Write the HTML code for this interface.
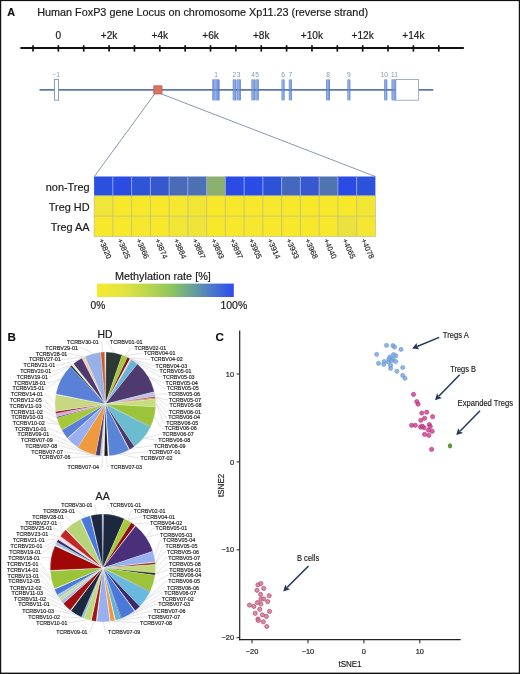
<!DOCTYPE html>
<html><head><meta charset="utf-8"><style>
html,body{margin:0;padding:0;background:#fff;}
body{width:520px;height:674px;overflow:hidden;font-family:"Liberation Sans",sans-serif;-webkit-font-smoothing:antialiased;}
svg{display:block;will-change:transform;}
</style></head><body>
<svg width="520" height="674" viewBox="0 0 520 674" font-family="Liberation Sans, sans-serif"><style>text{stroke:#1a1a1a;stroke-width:0.18px}.s{stroke-width:0.15px}.g{stroke:none}</style><rect x="0" y="0" width="520" height="1.1" fill="#111"/><rect x="0" y="0" width="1.2" height="674" fill="#111"/><rect x="518.8" y="0" width="1.2" height="674" fill="#111"/><rect x="0" y="672.6" width="520" height="1.4" fill="#111"/>
<text x="7.3" y="15.7" font-size="10.8" font-weight="bold" fill="#111">A</text>
<text x="37.2" y="15.9" font-size="10.83" fill="#1a1a1a">Human FoxP3 gene Locus on chromosome Xp11.23 (reverse strand)</text>
<line x1="20.4" y1="48.0" x2="463.8" y2="48.0" stroke="#111" stroke-width="2.0"/>
<line x1="33.00" y1="45.2" x2="33.00" y2="51.6" stroke="#111" stroke-width="1.7"/>
<line x1="58.36" y1="45.2" x2="58.36" y2="51.6" stroke="#111" stroke-width="1.7"/>
<line x1="83.72" y1="45.2" x2="83.72" y2="51.6" stroke="#111" stroke-width="1.7"/>
<line x1="109.08" y1="45.2" x2="109.08" y2="51.6" stroke="#111" stroke-width="1.7"/>
<line x1="134.44" y1="45.2" x2="134.44" y2="51.6" stroke="#111" stroke-width="1.7"/>
<line x1="159.80" y1="45.2" x2="159.80" y2="51.6" stroke="#111" stroke-width="1.7"/>
<line x1="185.16" y1="45.2" x2="185.16" y2="51.6" stroke="#111" stroke-width="1.7"/>
<line x1="210.52" y1="45.2" x2="210.52" y2="51.6" stroke="#111" stroke-width="1.7"/>
<line x1="235.88" y1="45.2" x2="235.88" y2="51.6" stroke="#111" stroke-width="1.7"/>
<line x1="261.24" y1="45.2" x2="261.24" y2="51.6" stroke="#111" stroke-width="1.7"/>
<line x1="286.60" y1="45.2" x2="286.60" y2="51.6" stroke="#111" stroke-width="1.7"/>
<line x1="311.96" y1="45.2" x2="311.96" y2="51.6" stroke="#111" stroke-width="1.7"/>
<line x1="337.32" y1="45.2" x2="337.32" y2="51.6" stroke="#111" stroke-width="1.7"/>
<line x1="362.68" y1="45.2" x2="362.68" y2="51.6" stroke="#111" stroke-width="1.7"/>
<line x1="388.04" y1="45.2" x2="388.04" y2="51.6" stroke="#111" stroke-width="1.7"/>
<line x1="413.40" y1="45.2" x2="413.40" y2="51.6" stroke="#111" stroke-width="1.7"/>
<line x1="438.76" y1="45.2" x2="438.76" y2="51.6" stroke="#111" stroke-width="1.7"/>
<text x="58.36" y="38.7" font-size="10.1" fill="#1a1a1a" text-anchor="middle">0</text>
<text x="109.08" y="38.7" font-size="10.1" fill="#1a1a1a" text-anchor="middle">+2k</text>
<text x="159.80" y="38.7" font-size="10.1" fill="#1a1a1a" text-anchor="middle">+4k</text>
<text x="210.52" y="38.7" font-size="10.1" fill="#1a1a1a" text-anchor="middle">+6k</text>
<text x="261.24" y="38.7" font-size="10.1" fill="#1a1a1a" text-anchor="middle">+8k</text>
<text x="311.96" y="38.7" font-size="10.1" fill="#1a1a1a" text-anchor="middle">+10k</text>
<text x="362.68" y="38.7" font-size="10.1" fill="#1a1a1a" text-anchor="middle">+12k</text>
<text x="413.40" y="38.7" font-size="10.1" fill="#1a1a1a" text-anchor="middle">+14k</text>
<defs><linearGradient id="ex" x1="0" x2="1" y1="0" y2="0"><stop offset="0" stop-color="#6a8ad0"/><stop offset="0.4" stop-color="#94b4ee"/><stop offset="1" stop-color="#6282c8"/></linearGradient><linearGradient id="cb" x1="0" x2="1" y1="0" y2="0"><stop offset="0" stop-color="#f4ea30"/><stop offset="0.2" stop-color="#e2e442"/><stop offset="0.4" stop-color="#b4d450"/><stop offset="0.55" stop-color="#8cc460"/><stop offset="0.7" stop-color="#68a09a"/><stop offset="0.85" stop-color="#4a74cc"/><stop offset="1" stop-color="#2c4cf0"/></linearGradient></defs>
<line x1="39.5" y1="89.9" x2="433.3" y2="89.9" stroke="#5a7aac" stroke-width="1.7"/>
<rect x="54.5" y="79.4" width="4" height="20.8" fill="#fff" stroke="#7a94c0" stroke-width="0.9"/>
<rect x="212.3" y="79.3" width="7.30" height="21.2" rx="0.8" fill="url(#ex)"/>
<rect x="232.7" y="79.3" width="3.50" height="21.2" rx="0.8" fill="url(#ex)"/>
<rect x="236.6" y="79.3" width="4.30" height="21.2" rx="0.8" fill="url(#ex)"/>
<rect x="251.4" y="79.3" width="3.50" height="21.2" rx="0.8" fill="url(#ex)"/>
<rect x="255.3" y="79.3" width="3.50" height="21.2" rx="0.8" fill="url(#ex)"/>
<rect x="281.5" y="79.3" width="3.10" height="21.2" rx="0.8" fill="url(#ex)"/>
<rect x="288.8" y="79.3" width="3.10" height="21.2" rx="0.8" fill="url(#ex)"/>
<rect x="326" y="79.3" width="4.00" height="21.2" rx="0.8" fill="url(#ex)"/>
<rect x="347.3" y="79.3" width="3.10" height="21.2" rx="0.8" fill="url(#ex)"/>
<rect x="384.1" y="79.3" width="3.20" height="21.2" rx="0.8" fill="url(#ex)"/>
<rect x="391.5" y="79.3" width="4.40" height="21.2" rx="0.8" fill="url(#ex)"/>
<line x1="212.3" y1="89.9" x2="219.6" y2="89.9" stroke="#3a5a98" stroke-width="1.6" stroke-opacity="0.45"/>
<line x1="232.7" y1="89.9" x2="236.2" y2="89.9" stroke="#3a5a98" stroke-width="1.6" stroke-opacity="0.45"/>
<line x1="236.6" y1="89.9" x2="240.9" y2="89.9" stroke="#3a5a98" stroke-width="1.6" stroke-opacity="0.45"/>
<line x1="251.4" y1="89.9" x2="254.9" y2="89.9" stroke="#3a5a98" stroke-width="1.6" stroke-opacity="0.45"/>
<line x1="255.3" y1="89.9" x2="258.8" y2="89.9" stroke="#3a5a98" stroke-width="1.6" stroke-opacity="0.45"/>
<line x1="281.5" y1="89.9" x2="284.6" y2="89.9" stroke="#3a5a98" stroke-width="1.6" stroke-opacity="0.45"/>
<line x1="288.8" y1="89.9" x2="291.9" y2="89.9" stroke="#3a5a98" stroke-width="1.6" stroke-opacity="0.45"/>
<line x1="326" y1="89.9" x2="330" y2="89.9" stroke="#3a5a98" stroke-width="1.6" stroke-opacity="0.45"/>
<line x1="347.3" y1="89.9" x2="350.4" y2="89.9" stroke="#3a5a98" stroke-width="1.6" stroke-opacity="0.45"/>
<line x1="384.1" y1="89.9" x2="387.3" y2="89.9" stroke="#3a5a98" stroke-width="1.6" stroke-opacity="0.45"/>
<line x1="391.5" y1="89.9" x2="395.9" y2="89.9" stroke="#3a5a98" stroke-width="1.6" stroke-opacity="0.45"/>
<rect x="395.9" y="79.4" width="22.6" height="20.8" fill="#fff" stroke="#8c9cc0" stroke-width="0.8"/>
<text x="56.2" y="77.2" font-size="6.6" fill="#8796b4" class="g" text-anchor="middle">−1</text>
<text x="216" y="77.2" font-size="6.6" fill="#8796b4" class="g" text-anchor="middle">1</text>
<text x="234.4" y="77.2" font-size="6.6" fill="#8796b4" class="g" text-anchor="middle">2</text>
<text x="238.7" y="77.2" font-size="6.6" fill="#8796b4" class="g" text-anchor="middle">3</text>
<text x="253" y="77.2" font-size="6.6" fill="#8796b4" class="g" text-anchor="middle">4</text>
<text x="257" y="77.2" font-size="6.6" fill="#8796b4" class="g" text-anchor="middle">5</text>
<text x="283" y="77.2" font-size="6.6" fill="#8796b4" class="g" text-anchor="middle">6</text>
<text x="290.3" y="77.2" font-size="6.6" fill="#8796b4" class="g" text-anchor="middle">7</text>
<text x="328" y="77.2" font-size="6.6" fill="#8796b4" class="g" text-anchor="middle">8</text>
<text x="348.8" y="77.2" font-size="6.6" fill="#8796b4" class="g" text-anchor="middle">9</text>
<text x="384.2" y="77.2" font-size="6.6" fill="#8796b4" class="g" text-anchor="middle">10</text>
<text x="394.5" y="77.2" font-size="6.6" fill="#8796b4" class="g" text-anchor="middle">11</text>
<rect x="153.8" y="85.8" width="8.2" height="8.2" fill="#da7462" stroke="#b85446" stroke-width="0.7"/>
<line x1="154.6" y1="94" x2="94.3" y2="176.5" stroke="#7a8aa6" stroke-width="0.9"/>
<line x1="161.6" y1="94" x2="375.3" y2="176.5" stroke="#7a8aa6" stroke-width="0.9"/>
<rect x="94.10" y="176.5" width="18.75" height="19.30" fill="#2a50e0"/>
<rect x="112.85" y="176.5" width="18.75" height="19.30" fill="#2a4ce4"/>
<rect x="131.61" y="176.5" width="18.75" height="19.30" fill="#2e54d8"/>
<rect x="150.36" y="176.5" width="18.75" height="19.30" fill="#3658cc"/>
<rect x="169.11" y="176.5" width="18.75" height="19.30" fill="#4a6cb8"/>
<rect x="187.87" y="176.5" width="18.75" height="19.30" fill="#4c70b4"/>
<rect x="206.62" y="176.5" width="18.75" height="19.30" fill="#8cb070"/>
<rect x="225.37" y="176.5" width="18.75" height="19.30" fill="#2a4ce4"/>
<rect x="244.13" y="176.5" width="18.75" height="19.30" fill="#2a4ce6"/>
<rect x="262.88" y="176.5" width="18.75" height="19.30" fill="#2c52d8"/>
<rect x="281.63" y="176.5" width="18.75" height="19.30" fill="#4668bc"/>
<rect x="300.39" y="176.5" width="18.75" height="19.30" fill="#3858d0"/>
<rect x="319.14" y="176.5" width="18.75" height="19.30" fill="#4e74b2"/>
<rect x="337.89" y="176.5" width="18.75" height="19.30" fill="#2a4ce4"/>
<rect x="356.65" y="176.5" width="18.75" height="19.30" fill="#2c52dc"/>
<rect x="94.10" y="195.8" width="18.75" height="20.40" fill="#eee63a"/>
<rect x="112.85" y="195.8" width="18.75" height="20.40" fill="#f7e82c"/>
<rect x="131.61" y="195.8" width="18.75" height="20.40" fill="#f7e82c"/>
<rect x="150.36" y="195.8" width="18.75" height="20.40" fill="#f8e82a"/>
<rect x="169.11" y="195.8" width="18.75" height="20.40" fill="#f6e82e"/>
<rect x="187.87" y="195.8" width="18.75" height="20.40" fill="#f2e634"/>
<rect x="206.62" y="195.8" width="18.75" height="20.40" fill="#f8e82a"/>
<rect x="225.37" y="195.8" width="18.75" height="20.40" fill="#f7e82c"/>
<rect x="244.13" y="195.8" width="18.75" height="20.40" fill="#f7e82c"/>
<rect x="262.88" y="195.8" width="18.75" height="20.40" fill="#f6e82e"/>
<rect x="281.63" y="195.8" width="18.75" height="20.40" fill="#f7e82c"/>
<rect x="300.39" y="195.8" width="18.75" height="20.40" fill="#f8e82a"/>
<rect x="319.14" y="195.8" width="18.75" height="20.40" fill="#f7e82c"/>
<rect x="337.89" y="195.8" width="18.75" height="20.40" fill="#f8e82a"/>
<rect x="356.65" y="195.8" width="18.75" height="20.40" fill="#f2e634"/>
<rect x="94.10" y="216.2" width="18.75" height="20.30" fill="#f7e82c"/>
<rect x="112.85" y="216.2" width="18.75" height="20.30" fill="#f7e82c"/>
<rect x="131.61" y="216.2" width="18.75" height="20.30" fill="#f6e82e"/>
<rect x="150.36" y="216.2" width="18.75" height="20.30" fill="#f7e82c"/>
<rect x="169.11" y="216.2" width="18.75" height="20.30" fill="#f2e634"/>
<rect x="187.87" y="216.2" width="18.75" height="20.30" fill="#eee43a"/>
<rect x="206.62" y="216.2" width="18.75" height="20.30" fill="#f8e82a"/>
<rect x="225.37" y="216.2" width="18.75" height="20.30" fill="#f7e82c"/>
<rect x="244.13" y="216.2" width="18.75" height="20.30" fill="#f6e82e"/>
<rect x="262.88" y="216.2" width="18.75" height="20.30" fill="#f7e82c"/>
<rect x="281.63" y="216.2" width="18.75" height="20.30" fill="#f7e82c"/>
<rect x="300.39" y="216.2" width="18.75" height="20.30" fill="#f8e82a"/>
<rect x="319.14" y="216.2" width="18.75" height="20.30" fill="#f7e82c"/>
<rect x="337.89" y="216.2" width="18.75" height="20.30" fill="#ebe240"/>
<rect x="356.65" y="216.2" width="18.75" height="20.30" fill="#f4e632"/>
<line x1="112.85" y1="176.5" x2="112.85" y2="195.8" stroke="#8ea6e0" stroke-width="0.9"/>
<line x1="112.85" y1="195.8" x2="112.85" y2="236.5" stroke="#c8c070" stroke-width="0.9"/>
<line x1="131.61" y1="176.5" x2="131.61" y2="195.8" stroke="#8ea6e0" stroke-width="0.9"/>
<line x1="131.61" y1="195.8" x2="131.61" y2="236.5" stroke="#c8c070" stroke-width="0.9"/>
<line x1="150.36" y1="176.5" x2="150.36" y2="195.8" stroke="#8ea6e0" stroke-width="0.9"/>
<line x1="150.36" y1="195.8" x2="150.36" y2="236.5" stroke="#c8c070" stroke-width="0.9"/>
<line x1="169.11" y1="176.5" x2="169.11" y2="195.8" stroke="#8ea6e0" stroke-width="0.9"/>
<line x1="169.11" y1="195.8" x2="169.11" y2="236.5" stroke="#c8c070" stroke-width="0.9"/>
<line x1="187.87" y1="176.5" x2="187.87" y2="195.8" stroke="#8ea6e0" stroke-width="0.9"/>
<line x1="187.87" y1="195.8" x2="187.87" y2="236.5" stroke="#c8c070" stroke-width="0.9"/>
<line x1="206.62" y1="176.5" x2="206.62" y2="195.8" stroke="#8ea6e0" stroke-width="0.9"/>
<line x1="206.62" y1="195.8" x2="206.62" y2="236.5" stroke="#c8c070" stroke-width="0.9"/>
<line x1="225.37" y1="176.5" x2="225.37" y2="195.8" stroke="#8ea6e0" stroke-width="0.9"/>
<line x1="225.37" y1="195.8" x2="225.37" y2="236.5" stroke="#c8c070" stroke-width="0.9"/>
<line x1="244.13" y1="176.5" x2="244.13" y2="195.8" stroke="#8ea6e0" stroke-width="0.9"/>
<line x1="244.13" y1="195.8" x2="244.13" y2="236.5" stroke="#c8c070" stroke-width="0.9"/>
<line x1="262.88" y1="176.5" x2="262.88" y2="195.8" stroke="#8ea6e0" stroke-width="0.9"/>
<line x1="262.88" y1="195.8" x2="262.88" y2="236.5" stroke="#c8c070" stroke-width="0.9"/>
<line x1="281.63" y1="176.5" x2="281.63" y2="195.8" stroke="#8ea6e0" stroke-width="0.9"/>
<line x1="281.63" y1="195.8" x2="281.63" y2="236.5" stroke="#c8c070" stroke-width="0.9"/>
<line x1="300.39" y1="176.5" x2="300.39" y2="195.8" stroke="#8ea6e0" stroke-width="0.9"/>
<line x1="300.39" y1="195.8" x2="300.39" y2="236.5" stroke="#c8c070" stroke-width="0.9"/>
<line x1="319.14" y1="176.5" x2="319.14" y2="195.8" stroke="#8ea6e0" stroke-width="0.9"/>
<line x1="319.14" y1="195.8" x2="319.14" y2="236.5" stroke="#c8c070" stroke-width="0.9"/>
<line x1="337.89" y1="176.5" x2="337.89" y2="195.8" stroke="#8ea6e0" stroke-width="0.9"/>
<line x1="337.89" y1="195.8" x2="337.89" y2="236.5" stroke="#c8c070" stroke-width="0.9"/>
<line x1="356.65" y1="176.5" x2="356.65" y2="195.8" stroke="#8ea6e0" stroke-width="0.9"/>
<line x1="356.65" y1="195.8" x2="356.65" y2="236.5" stroke="#c8c070" stroke-width="0.9"/>
<line x1="94.1" y1="216.2" x2="375.4" y2="216.2" stroke="#c8c070" stroke-width="0.8"/>
<rect x="94.1" y="195.8" width="281.30" height="40.7" fill="none" stroke="#b8b490" stroke-width="0.6"/>
<text x="89.6" y="191" font-size="10.9" fill="#1a1a1a" text-anchor="end">non-Treg</text>
<text x="89.6" y="210.6" font-size="10.9" fill="#1a1a1a" text-anchor="end">Treg HD</text>
<text x="89.6" y="230.5" font-size="10.9" fill="#1a1a1a" text-anchor="end">Treg AA</text>
<text x="98.40" y="239.9" font-size="7.6" fill="#222" class="s" transform="rotate(66 98.40 239.9)">+3820</text>
<text x="117.15" y="239.9" font-size="7.6" fill="#222" class="s" transform="rotate(66 117.15 239.9)">+3825</text>
<text x="135.91" y="239.9" font-size="7.6" fill="#222" class="s" transform="rotate(66 135.91 239.9)">+3866</text>
<text x="154.66" y="239.9" font-size="7.6" fill="#222" class="s" transform="rotate(66 154.66 239.9)">+3874</text>
<text x="173.41" y="239.9" font-size="7.6" fill="#222" class="s" transform="rotate(66 173.41 239.9)">+3884</text>
<text x="192.17" y="239.9" font-size="7.6" fill="#222" class="s" transform="rotate(66 192.17 239.9)">+3887</text>
<text x="210.92" y="239.9" font-size="7.6" fill="#222" class="s" transform="rotate(66 210.92 239.9)">+3893</text>
<text x="229.67" y="239.9" font-size="7.6" fill="#222" class="s" transform="rotate(66 229.67 239.9)">+3897</text>
<text x="248.43" y="239.9" font-size="7.6" fill="#222" class="s" transform="rotate(66 248.43 239.9)">+3905</text>
<text x="267.18" y="239.9" font-size="7.6" fill="#222" class="s" transform="rotate(66 267.18 239.9)">+3914</text>
<text x="285.93" y="239.9" font-size="7.6" fill="#222" class="s" transform="rotate(66 285.93 239.9)">+3933</text>
<text x="304.69" y="239.9" font-size="7.6" fill="#222" class="s" transform="rotate(66 304.69 239.9)">+3968</text>
<text x="323.44" y="239.9" font-size="7.6" fill="#222" class="s" transform="rotate(66 323.44 239.9)">+4040</text>
<text x="342.19" y="239.9" font-size="7.6" fill="#222" class="s" transform="rotate(66 342.19 239.9)">+4065</text>
<text x="360.95" y="239.9" font-size="7.6" fill="#222" class="s" transform="rotate(66 360.95 239.9)">+4078</text>
<text x="115" y="280.4" font-size="10.85" fill="#1a1a1a">Methylation rate [%]</text>
<rect x="97" y="283.6" width="136.8" height="13.4" fill="url(#cb)"/>
<text x="90.6" y="308.8" font-size="10.2" fill="#1a1a1a">0%</text>
<text x="220.4" y="308.8" font-size="10.5" fill="#1a1a1a">100%</text>
<text x="7.4" y="340.8" font-size="11.6" font-weight="bold" fill="#111">B</text>
<path d="M105.35,404.00 L104.65,352.01 A50.4,52 0 0 1 106.05,352.01 Z" fill="#f4f6f8" stroke="#f4f4f4" stroke-width="0.3" stroke-opacity="0.7"/>
<path d="M105.35,404.00 L106.05,352.01 A50.4,52 0 0 1 122.17,354.98 Z" fill="#2d3a33" stroke="#f4f4f4" stroke-width="0.3" stroke-opacity="0.7"/>
<path d="M105.35,404.00 L122.17,354.98 A50.4,52 0 0 1 127.44,357.26 Z" fill="#a8c83c" stroke="#f4f4f4" stroke-width="0.3" stroke-opacity="0.7"/>
<path d="M105.35,404.00 L127.44,357.26 A50.4,52 0 0 1 130.17,358.74 Z" fill="#7a1a10" stroke="#f4f4f4" stroke-width="0.3" stroke-opacity="0.7"/>
<path d="M105.35,404.00 L130.17,358.74 A50.4,52 0 0 1 131.46,359.52 Z" fill="#f0d0e0" stroke="#f4f4f4" stroke-width="0.3" stroke-opacity="0.7"/>
<path d="M105.35,404.00 L131.46,359.52 A50.4,52 0 0 1 137.41,363.88 Z" fill="#6ab4d8" stroke="#f4f4f4" stroke-width="0.3" stroke-opacity="0.7"/>
<path d="M105.35,404.00 L137.41,363.88 A50.4,52 0 0 1 154.36,391.86 Z" fill="#4e3a6e" stroke="#f4f4f4" stroke-width="0.3" stroke-opacity="0.7"/>
<path d="M105.35,404.00 L154.36,391.86 A50.4,52 0 0 1 155.23,396.58 Z" fill="#c0c0e8" stroke="#f4f4f4" stroke-width="0.3" stroke-opacity="0.7"/>
<path d="M105.35,404.00 L155.23,396.58 A50.4,52 0 0 1 155.37,397.66 Z" fill="#8a3020" stroke="#f4f4f4" stroke-width="0.3" stroke-opacity="0.7"/>
<path d="M105.35,404.00 L155.37,397.66 A50.4,52 0 0 1 155.53,399.11 Z" fill="#e08030" stroke="#f4f4f4" stroke-width="0.3" stroke-opacity="0.7"/>
<path d="M105.35,404.00 L155.53,399.11 A50.4,52 0 0 1 155.67,406.99 Z" fill="#c8dc80" stroke="#f4f4f4" stroke-width="0.3" stroke-opacity="0.7"/>
<path d="M105.35,404.00 L155.67,406.99 A50.4,52 0 0 1 150.76,426.55 Z" fill="#9cc43a" stroke="#f4f4f4" stroke-width="0.3" stroke-opacity="0.7"/>
<path d="M105.35,404.00 L150.76,426.55 A50.4,52 0 0 1 150.45,427.20 Z" fill="#4a5a2a" stroke="#f4f4f4" stroke-width="0.3" stroke-opacity="0.7"/>
<path d="M105.35,404.00 L150.45,427.20 A50.4,52 0 0 1 134.33,446.54 Z" fill="#6cbcd0" stroke="#f4f4f4" stroke-width="0.3" stroke-opacity="0.7"/>
<path d="M105.35,404.00 L134.33,446.54 A50.4,52 0 0 1 129.48,449.66 Z" fill="#4a3a6a" stroke="#f4f4f4" stroke-width="0.3" stroke-opacity="0.7"/>
<path d="M105.35,404.00 L129.48,449.66 A50.4,52 0 0 1 129.01,449.91 Z" fill="#f4f6f8" stroke="#f4f4f4" stroke-width="0.3" stroke-opacity="0.7"/>
<path d="M105.35,404.00 L129.01,449.91 A50.4,52 0 0 1 109.04,455.86 Z" fill="#5a84d8" stroke="#f4f4f4" stroke-width="0.3" stroke-opacity="0.7"/>
<path d="M105.35,404.00 L109.04,455.86 A50.4,52 0 0 1 107.90,455.93 Z" fill="#f4f6f8" stroke="#f4f4f4" stroke-width="0.3" stroke-opacity="0.7"/>
<path d="M105.35,404.00 L107.90,455.93 A50.4,52 0 0 1 104.12,455.98 Z" fill="#1f1f1f" stroke="#f4f4f4" stroke-width="0.3" stroke-opacity="0.7"/>
<path d="M105.35,404.00 L104.12,455.98 A50.4,52 0 0 1 101.83,455.87 Z" fill="#eeeedd" stroke="#f4f4f4" stroke-width="0.3" stroke-opacity="0.7"/>
<path d="M105.35,404.00 L101.83,455.87 A50.4,52 0 0 1 100.08,455.72 Z" fill="#b0b8d8" stroke="#f4f4f4" stroke-width="0.3" stroke-opacity="0.7"/>
<path d="M105.35,404.00 L100.08,455.72 A50.4,52 0 0 1 95.47,454.99 Z" fill="#4a3a6a" stroke="#f4f4f4" stroke-width="0.3" stroke-opacity="0.7"/>
<path d="M105.35,404.00 L95.47,454.99 A50.4,52 0 0 1 77.75,447.51 Z" fill="#f09a40" stroke="#f4f4f4" stroke-width="0.3" stroke-opacity="0.7"/>
<path d="M105.35,404.00 L77.75,447.51 A50.4,52 0 0 1 67.66,438.52 Z" fill="#98b0f0" stroke="#f4f4f4" stroke-width="0.3" stroke-opacity="0.7"/>
<path d="M105.35,404.00 L67.66,438.52 A50.4,52 0 0 1 67.37,438.18 Z" fill="#f4f6f8" stroke="#f4f4f4" stroke-width="0.3" stroke-opacity="0.7"/>
<path d="M105.35,404.00 L67.37,438.18 A50.4,52 0 0 1 61.75,430.08 Z" fill="#5a80d8" stroke="#f4f4f4" stroke-width="0.3" stroke-opacity="0.7"/>
<path d="M105.35,404.00 L61.75,430.08 A50.4,52 0 0 1 56.78,417.90 Z" fill="#a8c83c" stroke="#f4f4f4" stroke-width="0.3" stroke-opacity="0.7"/>
<path d="M105.35,404.00 L56.78,417.90 A50.4,52 0 0 1 56.49,416.76 Z" fill="#4a3a5a" stroke="#f4f4f4" stroke-width="0.3" stroke-opacity="0.7"/>
<path d="M105.35,404.00 L56.49,416.76 A50.4,52 0 0 1 55.79,413.48 Z" fill="#d8a8d8" stroke="#f4f4f4" stroke-width="0.3" stroke-opacity="0.7"/>
<path d="M105.35,404.00 L55.79,413.48 A50.4,52 0 0 1 55.47,411.42 Z" fill="#8a1a2a" stroke="#f4f4f4" stroke-width="0.3" stroke-opacity="0.7"/>
<path d="M105.35,404.00 L55.47,411.42 A50.4,52 0 0 1 55.79,394.52 Z" fill="#c8d880" stroke="#f4f4f4" stroke-width="0.3" stroke-opacity="0.7"/>
<path d="M105.35,404.00 L55.79,394.52 A50.4,52 0 0 1 55.91,393.90 Z" fill="#e0f0f8" stroke="#f4f4f4" stroke-width="0.3" stroke-opacity="0.7"/>
<path d="M105.35,404.00 L55.91,393.90 A50.4,52 0 0 1 70.40,366.53 Z" fill="#5a80d8" stroke="#f4f4f4" stroke-width="0.3" stroke-opacity="0.7"/>
<path d="M105.35,404.00 L70.40,366.53 A50.4,52 0 0 1 71.82,365.17 Z" fill="#1a3020" stroke="#f4f4f4" stroke-width="0.3" stroke-opacity="0.7"/>
<path d="M105.35,404.00 L71.82,365.17 A50.4,52 0 0 1 73.43,363.76 Z" fill="#f4f0d0" stroke="#f4f4f4" stroke-width="0.3" stroke-opacity="0.7"/>
<path d="M105.35,404.00 L73.43,363.76 A50.4,52 0 0 1 82.00,357.92 Z" fill="#4e3a6e" stroke="#f4f4f4" stroke-width="0.3" stroke-opacity="0.7"/>
<path d="M105.35,404.00 L82.00,357.92 A50.4,52 0 0 1 85.01,356.42 Z" fill="#f0d0b0" stroke="#f4f4f4" stroke-width="0.3" stroke-opacity="0.7"/>
<path d="M105.35,404.00 L85.01,356.42 A50.4,52 0 0 1 100.78,352.21 Z" fill="#98b0e8" stroke="#f4f4f4" stroke-width="0.3" stroke-opacity="0.7"/>
<path d="M105.35,404.00 L100.78,352.21 A50.4,52 0 0 1 104.65,352.01 Z" fill="#d05a2a" stroke="#f4f4f4" stroke-width="0.3" stroke-opacity="0.7"/>
<path d="M102.85,568.00 L101.93,514.11 A52.65,53.9 0 0 1 103.59,514.11 Z" fill="#a8b0d0" stroke="#f4f4f4" stroke-width="0.3" stroke-opacity="0.7"/>
<path d="M102.85,568.00 L103.59,514.11 A52.65,53.9 0 0 1 124.35,518.80 Z" fill="#1c2840" stroke="#f4f4f4" stroke-width="0.3" stroke-opacity="0.7"/>
<path d="M102.85,568.00 L124.35,518.80 A52.65,53.9 0 0 1 131.22,522.59 Z" fill="#a8c83c" stroke="#f4f4f4" stroke-width="0.3" stroke-opacity="0.7"/>
<path d="M102.85,568.00 L131.22,522.59 A52.65,53.9 0 0 1 135.19,525.47 Z" fill="#8a1010" stroke="#f4f4f4" stroke-width="0.3" stroke-opacity="0.7"/>
<path d="M102.85,568.00 L135.19,525.47 A52.65,53.9 0 0 1 135.70,525.88 Z" fill="#f0b0c0" stroke="#f4f4f4" stroke-width="0.3" stroke-opacity="0.7"/>
<path d="M102.85,568.00 L135.70,525.88 A52.65,53.9 0 0 1 152.89,551.25 Z" fill="#4a307a" stroke="#f4f4f4" stroke-width="0.3" stroke-opacity="0.7"/>
<path d="M102.85,568.00 L152.89,551.25 A52.65,53.9 0 0 1 155.17,561.99 Z" fill="#98b0f0" stroke="#f4f4f4" stroke-width="0.3" stroke-opacity="0.7"/>
<path d="M102.85,568.00 L155.17,561.99 A52.65,53.9 0 0 1 155.23,562.55 Z" fill="#f0c0c0" stroke="#f4f4f4" stroke-width="0.3" stroke-opacity="0.7"/>
<path d="M102.85,568.00 L155.23,562.55 A52.65,53.9 0 0 1 155.39,564.52 Z" fill="#8a2020" stroke="#f4f4f4" stroke-width="0.3" stroke-opacity="0.7"/>
<path d="M102.85,568.00 L155.39,564.52 A52.65,53.9 0 0 1 155.27,573.07 Z" fill="#c0d878" stroke="#f4f4f4" stroke-width="0.3" stroke-opacity="0.7"/>
<path d="M102.85,568.00 L155.27,573.07 A52.65,53.9 0 0 1 155.01,575.32 Z" fill="#2a3020" stroke="#f4f4f4" stroke-width="0.3" stroke-opacity="0.7"/>
<path d="M102.85,568.00 L155.01,575.32 A52.65,53.9 0 0 1 150.29,591.37 Z" fill="#9cc43a" stroke="#f4f4f4" stroke-width="0.3" stroke-opacity="0.7"/>
<path d="M102.85,568.00 L150.29,591.37 A52.65,53.9 0 0 1 150.01,591.97 Z" fill="#4a4020" stroke="#f4f4f4" stroke-width="0.3" stroke-opacity="0.7"/>
<path d="M102.85,568.00 L150.01,591.97 A52.65,53.9 0 0 1 139.82,606.38 Z" fill="#68b8e0" stroke="#f4f4f4" stroke-width="0.3" stroke-opacity="0.7"/>
<path d="M102.85,568.00 L139.82,606.38 A52.65,53.9 0 0 1 134.97,610.70 Z" fill="#3a2a6a" stroke="#f4f4f4" stroke-width="0.3" stroke-opacity="0.7"/>
<path d="M102.85,568.00 L134.97,610.70 A52.65,53.9 0 0 1 134.54,611.05 Z" fill="#f4f6f8" stroke="#f4f4f4" stroke-width="0.3" stroke-opacity="0.7"/>
<path d="M102.85,568.00 L134.54,611.05 A52.65,53.9 0 0 1 121.46,618.42 Z" fill="#4a78d8" stroke="#f4f4f4" stroke-width="0.3" stroke-opacity="0.7"/>
<path d="M102.85,568.00 L121.46,618.42 A52.65,53.9 0 0 1 120.68,618.71 Z" fill="#1c2840" stroke="#f4f4f4" stroke-width="0.3" stroke-opacity="0.7"/>
<path d="M102.85,568.00 L120.68,618.71 A52.65,53.9 0 0 1 115.50,620.32 Z" fill="#60b0d8" stroke="#f4f4f4" stroke-width="0.3" stroke-opacity="0.7"/>
<path d="M102.85,568.00 L115.50,620.32 A52.65,53.9 0 0 1 114.96,620.45 Z" fill="#f4f6f8" stroke="#f4f4f4" stroke-width="0.3" stroke-opacity="0.7"/>
<path d="M102.85,568.00 L114.96,620.45 A52.65,53.9 0 0 1 110.27,621.36 Z" fill="#f09a40" stroke="#f4f4f4" stroke-width="0.3" stroke-opacity="0.7"/>
<path d="M102.85,568.00 L110.27,621.36 A52.65,53.9 0 0 1 109.81,621.43 Z" fill="#f4f6f8" stroke="#f4f4f4" stroke-width="0.3" stroke-opacity="0.7"/>
<path d="M102.85,568.00 L109.81,621.43 A52.65,53.9 0 0 1 96.89,621.55 Z" fill="#98b0f0" stroke="#f4f4f4" stroke-width="0.3" stroke-opacity="0.7"/>
<path d="M102.85,568.00 L96.89,621.55 A52.65,53.9 0 0 1 96.16,621.46 Z" fill="#f4f6f8" stroke="#f4f4f4" stroke-width="0.3" stroke-opacity="0.7"/>
<path d="M102.85,568.00 L96.16,621.46 A52.65,53.9 0 0 1 91.19,620.56 Z" fill="#a01818" stroke="#f4f4f4" stroke-width="0.3" stroke-opacity="0.7"/>
<path d="M102.85,568.00 L91.19,620.56 A52.65,53.9 0 0 1 90.74,620.45 Z" fill="#f4f6f8" stroke="#f4f4f4" stroke-width="0.3" stroke-opacity="0.7"/>
<path d="M102.85,568.00 L90.74,620.45 A52.65,53.9 0 0 1 83.72,618.22 Z" fill="#c0d878" stroke="#f4f4f4" stroke-width="0.3" stroke-opacity="0.7"/>
<path d="M102.85,568.00 L83.72,618.22 A52.65,53.9 0 0 1 81.35,617.20 Z" fill="#90c0e0" stroke="#f4f4f4" stroke-width="0.3" stroke-opacity="0.7"/>
<path d="M102.85,568.00 L81.35,617.20 A52.65,53.9 0 0 1 70.80,610.76 Z" fill="#1c2840" stroke="#f4f4f4" stroke-width="0.3" stroke-opacity="0.7"/>
<path d="M102.85,568.00 L70.80,610.76 A52.65,53.9 0 0 1 70.22,610.30 Z" fill="#f4f0d0" stroke="#f4f4f4" stroke-width="0.3" stroke-opacity="0.7"/>
<path d="M102.85,568.00 L70.22,610.30 A52.65,53.9 0 0 1 63.30,603.57 Z" fill="#a01010" stroke="#f4f4f4" stroke-width="0.3" stroke-opacity="0.7"/>
<path d="M102.85,568.00 L63.30,603.57 A52.65,53.9 0 0 1 61.02,600.74 Z" fill="#b0b8f0" stroke="#f4f4f4" stroke-width="0.3" stroke-opacity="0.7"/>
<path d="M102.85,568.00 L61.02,600.74 A52.65,53.9 0 0 1 59.15,598.06 Z" fill="#c8dc90" stroke="#f4f4f4" stroke-width="0.3" stroke-opacity="0.7"/>
<path d="M102.85,568.00 L59.15,598.06 A52.65,53.9 0 0 1 57.25,594.95 Z" fill="#a8c8e0" stroke="#f4f4f4" stroke-width="0.3" stroke-opacity="0.7"/>
<path d="M102.85,568.00 L57.25,594.95 A52.65,53.9 0 0 1 54.46,589.23 Z" fill="#4a78d8" stroke="#f4f4f4" stroke-width="0.3" stroke-opacity="0.7"/>
<path d="M102.85,568.00 L54.46,589.23 A52.65,53.9 0 0 1 54.24,588.71 Z" fill="#f4f6f8" stroke="#f4f4f4" stroke-width="0.3" stroke-opacity="0.7"/>
<path d="M102.85,568.00 L54.24,588.71 A52.65,53.9 0 0 1 50.28,571.01 Z" fill="#9cc43a" stroke="#f4f4f4" stroke-width="0.3" stroke-opacity="0.7"/>
<path d="M102.85,568.00 L50.28,571.01 A52.65,53.9 0 0 1 50.25,570.35 Z" fill="#e8c8a0" stroke="#f4f4f4" stroke-width="0.3" stroke-opacity="0.7"/>
<path d="M102.85,568.00 L50.25,570.35 A52.65,53.9 0 0 1 54.90,545.73 Z" fill="#a00808" stroke="#f4f4f4" stroke-width="0.3" stroke-opacity="0.7"/>
<path d="M102.85,568.00 L54.90,545.73 A52.65,53.9 0 0 1 55.37,544.71 Z" fill="#f4f6f8" stroke="#f4f4f4" stroke-width="0.3" stroke-opacity="0.7"/>
<path d="M102.85,568.00 L55.37,544.71 A52.65,53.9 0 0 1 56.71,542.03 Z" fill="#a0c0d8" stroke="#f4f4f4" stroke-width="0.3" stroke-opacity="0.7"/>
<path d="M102.85,568.00 L56.71,542.03 A52.65,53.9 0 0 1 58.10,539.60 Z" fill="#2a2a6a" stroke="#f4f4f4" stroke-width="0.3" stroke-opacity="0.7"/>
<path d="M102.85,568.00 L58.10,539.60 A52.65,53.9 0 0 1 58.95,538.25 Z" fill="#f0c8d8" stroke="#f4f4f4" stroke-width="0.3" stroke-opacity="0.7"/>
<path d="M102.85,568.00 L58.95,538.25 A52.65,53.9 0 0 1 60.36,536.17 Z" fill="#f4dce6" stroke="#f4f4f4" stroke-width="0.3" stroke-opacity="0.7"/>
<path d="M102.85,568.00 L60.36,536.17 A52.65,53.9 0 0 1 65.88,529.62 Z" fill="#c02828" stroke="#f4f4f4" stroke-width="0.3" stroke-opacity="0.7"/>
<path d="M102.85,568.00 L65.88,529.62 A52.65,53.9 0 0 1 66.28,529.23 Z" fill="#f4f6f8" stroke="#f4f4f4" stroke-width="0.3" stroke-opacity="0.7"/>
<path d="M102.85,568.00 L66.28,529.23 A52.65,53.9 0 0 1 80.35,519.27 Z" fill="#b8d478" stroke="#f4f4f4" stroke-width="0.3" stroke-opacity="0.7"/>
<path d="M102.85,568.00 L80.35,519.27 A52.65,53.9 0 0 1 81.02,518.95 Z" fill="#e0ecf0" stroke="#f4f4f4" stroke-width="0.3" stroke-opacity="0.7"/>
<path d="M102.85,568.00 L81.02,518.95 A52.65,53.9 0 0 1 90.20,515.68 Z" fill="#4a78d8" stroke="#f4f4f4" stroke-width="0.3" stroke-opacity="0.7"/>
<path d="M102.85,568.00 L90.20,515.68 A52.65,53.9 0 0 1 90.83,515.52 Z" fill="#d0d4e0" stroke="#f4f4f4" stroke-width="0.3" stroke-opacity="0.7"/>
<path d="M102.85,568.00 L90.83,515.52 A52.65,53.9 0 0 1 101.93,514.11 Z" fill="#1c2840" stroke="#f4f4f4" stroke-width="0.3" stroke-opacity="0.7"/>
<text x="97.5" y="338.4" font-size="10.4" fill="#1a1a1a">HD</text>
<text x="95.6" y="499.7" font-size="10.6" fill="#1a1a1a">AA</text>
<polyline points="109.0,342.0 107.0,342.0 114.3,352.5" fill="none" stroke="#c6c8cc" stroke-width="0.5"/>
<polyline points="133.6,348.0 131.6,348.0 125.0,355.8" fill="none" stroke="#c6c8cc" stroke-width="0.5"/>
<polyline points="143.2,353.5 141.2,353.5 125.0,355.8" fill="none" stroke="#c6c8cc" stroke-width="0.5"/>
<polyline points="149.9,359.5 147.9,359.5 129.0,357.7" fill="none" stroke="#c6c8cc" stroke-width="0.5"/>
<polyline points="154.8,365.6 152.8,365.6 131.0,358.9" fill="none" stroke="#c6c8cc" stroke-width="0.5"/>
<polyline points="158.8,371.1 156.8,371.1 131.0,358.9" fill="none" stroke="#c6c8cc" stroke-width="0.5"/>
<polyline points="162.0,376.8 160.0,376.8 134.7,361.3" fill="none" stroke="#c6c8cc" stroke-width="0.5"/>
<polyline points="164.7,382.6 162.7,382.6 148.3,376.3" fill="none" stroke="#c6c8cc" stroke-width="0.5"/>
<polyline points="166.0,388.4 164.0,388.4 148.3,376.3" fill="none" stroke="#c6c8cc" stroke-width="0.5"/>
<polyline points="167.4,393.9 165.4,393.9 155.1,394.2" fill="none" stroke="#c6c8cc" stroke-width="0.5"/>
<polyline points="168.0,399.9 166.0,399.9 155.6,397.1" fill="none" stroke="#c6c8cc" stroke-width="0.5"/>
<polyline points="168.7,405.3 166.7,405.3 155.6,397.1" fill="none" stroke="#c6c8cc" stroke-width="0.5"/>
<polyline points="168.0,411.6 166.0,411.6 155.8,398.4" fill="none" stroke="#c6c8cc" stroke-width="0.5"/>
<polyline points="167.4,417.0 165.4,417.0 156.0,403.0" fill="none" stroke="#c6c8cc" stroke-width="0.5"/>
<polyline points="165.4,422.8 163.4,422.8 156.0,403.0" fill="none" stroke="#c6c8cc" stroke-width="0.5"/>
<polyline points="164.0,428.5 162.0,428.5 154.4,417.1" fill="none" stroke="#c6c8cc" stroke-width="0.5"/>
<polyline points="161.6,434.5 159.6,434.5 143.8,438.1" fill="none" stroke="#c6c8cc" stroke-width="0.5"/>
<polyline points="157.5,440.1 155.5,440.1 143.8,438.1" fill="none" stroke="#c6c8cc" stroke-width="0.5"/>
<polyline points="152.9,445.8 150.9,445.8 132.1,448.4" fill="none" stroke="#c6c8cc" stroke-width="0.5"/>
<polyline points="148.0,451.8 146.0,451.8 119.4,454.2" fill="none" stroke="#c6c8cc" stroke-width="0.5"/>
<polyline points="139.7,457.9 137.7,457.9 119.4,454.2" fill="none" stroke="#c6c8cc" stroke-width="0.5"/>
<polyline points="109.7,466.9 107.7,466.9 106.0,456.3" fill="none" stroke="#c6c8cc" stroke-width="0.5"/>
<polyline points="99.7,466.9 101.7,466.9 103.0,456.2" fill="none" stroke="#c6c8cc" stroke-width="0.5"/>
<polyline points="71.2,457.5 73.2,457.5 100.9,456.1" fill="none" stroke="#c6c8cc" stroke-width="0.5"/>
<polyline points="63.8,452.0 65.8,452.0 97.7,455.7" fill="none" stroke="#c6c8cc" stroke-width="0.5"/>
<polyline points="58.0,445.8 60.0,445.8 97.7,455.7" fill="none" stroke="#c6c8cc" stroke-width="0.5"/>
<polyline points="53.6,440.2 55.6,440.2 86.2,452.4" fill="none" stroke="#c6c8cc" stroke-width="0.5"/>
<polyline points="49.9,434.5 51.9,434.5 72.2,443.6" fill="none" stroke="#c6c8cc" stroke-width="0.5"/>
<polyline points="47.2,428.7 49.2,428.7 64.1,434.4" fill="none" stroke="#c6c8cc" stroke-width="0.5"/>
<polyline points="45.5,423.1 47.5,423.1 58.6,424.3" fill="none" stroke="#c6c8cc" stroke-width="0.5"/>
<polyline points="44.1,417.3 46.1,417.3 58.6,424.3" fill="none" stroke="#c6c8cc" stroke-width="0.5"/>
<polyline points="43.6,411.6 45.6,411.6 56.3,417.4" fill="none" stroke="#c6c8cc" stroke-width="0.5"/>
<polyline points="42.3,405.9 44.3,405.9 55.8,415.2" fill="none" stroke="#c6c8cc" stroke-width="0.5"/>
<polyline points="42.5,400.1 44.5,400.1 55.3,412.5" fill="none" stroke="#c6c8cc" stroke-width="0.5"/>
<polyline points="43.9,394.2 45.9,394.2 54.7,403.0" fill="none" stroke="#c6c8cc" stroke-width="0.5"/>
<polyline points="44.9,388.4 46.9,388.4 60.9,378.9" fill="none" stroke="#c6c8cc" stroke-width="0.5"/>
<polyline points="46.6,382.9 48.6,382.9 60.9,378.9" fill="none" stroke="#c6c8cc" stroke-width="0.5"/>
<polyline points="48.6,376.8 50.6,376.8 70.9,365.6" fill="none" stroke="#c6c8cc" stroke-width="0.5"/>
<polyline points="51.9,371.2 53.9,371.2 72.4,364.2" fill="none" stroke="#c6c8cc" stroke-width="0.5"/>
<polyline points="56.0,365.4 58.0,365.4 77.4,360.4" fill="none" stroke="#c6c8cc" stroke-width="0.5"/>
<polyline points="61.4,359.5 63.4,359.5 83.4,356.9" fill="none" stroke="#c6c8cc" stroke-width="0.5"/>
<polyline points="68.1,353.6 70.1,353.6 83.4,356.9" fill="none" stroke="#c6c8cc" stroke-width="0.5"/>
<polyline points="78.9,347.6 80.9,347.6 92.7,353.4" fill="none" stroke="#c6c8cc" stroke-width="0.5"/>
<polyline points="99.6,342.0 101.6,342.0 102.7,351.8" fill="none" stroke="#c6c8cc" stroke-width="0.5"/>
<text x="67.1" y="343.9" font-size="5.3" fill="#1a1a1a" class="s" textLength="31.7" lengthAdjust="spacingAndGlyphs">TCRBV30-01</text>
<text x="45.3" y="349.5" font-size="5.3" fill="#1a1a1a" class="s" textLength="32.8" lengthAdjust="spacingAndGlyphs">TCRBV29-01</text>
<text x="35.7" y="355.5" font-size="5.3" fill="#1a1a1a" class="s" textLength="31.6" lengthAdjust="spacingAndGlyphs">TCRBV28-01</text>
<text x="28.9" y="361.4" font-size="5.3" fill="#1a1a1a" class="s" textLength="31.7" lengthAdjust="spacingAndGlyphs">TCRBV27-01</text>
<text x="23.6" y="367.3" font-size="5.3" fill="#1a1a1a" class="s" textLength="31.6" lengthAdjust="spacingAndGlyphs">TCRBV21-01</text>
<text x="20.2" y="373.1" font-size="5.3" fill="#1a1a1a" class="s" textLength="30.9" lengthAdjust="spacingAndGlyphs">TCRBV20-01</text>
<text x="16.8" y="378.7" font-size="5.3" fill="#1a1a1a" class="s" textLength="31.0" lengthAdjust="spacingAndGlyphs">TCRBV19-01</text>
<text x="14.1" y="384.8" font-size="5.3" fill="#1a1a1a" class="s" textLength="31.7" lengthAdjust="spacingAndGlyphs">TCRBV18-01</text>
<text x="12.4" y="390.3" font-size="5.3" fill="#1a1a1a" class="s" textLength="31.7" lengthAdjust="spacingAndGlyphs">TCRBV15-01</text>
<text x="10.8" y="396.1" font-size="5.3" fill="#1a1a1a" class="s" textLength="32.3" lengthAdjust="spacingAndGlyphs">TCRBV14-01</text>
<text x="9.7" y="402.0" font-size="5.3" fill="#1a1a1a" class="s" textLength="32.0" lengthAdjust="spacingAndGlyphs">TCRBV12-05</text>
<text x="9.4" y="407.8" font-size="5.3" fill="#1a1a1a" class="s" textLength="32.1" lengthAdjust="spacingAndGlyphs">TCRBV11-03</text>
<text x="10.5" y="413.5" font-size="5.3" fill="#1a1a1a" class="s" textLength="32.3" lengthAdjust="spacingAndGlyphs">TCRBV11-02</text>
<text x="11.4" y="419.2" font-size="5.3" fill="#1a1a1a" class="s" textLength="31.9" lengthAdjust="spacingAndGlyphs">TCRBV10-03</text>
<text x="12.8" y="425.0" font-size="5.3" fill="#1a1a1a" class="s" textLength="31.9" lengthAdjust="spacingAndGlyphs">TCRBV10-02</text>
<text x="14.8" y="430.6" font-size="5.3" fill="#1a1a1a" class="s" textLength="31.6" lengthAdjust="spacingAndGlyphs">TCRBV10-01</text>
<text x="17.5" y="436.4" font-size="5.3" fill="#1a1a1a" class="s" textLength="31.6" lengthAdjust="spacingAndGlyphs">TCRBV09-01</text>
<text x="20.9" y="442.1" font-size="5.3" fill="#1a1a1a" class="s" textLength="31.9" lengthAdjust="spacingAndGlyphs">TCRBV07-09</text>
<text x="25.3" y="447.7" font-size="5.3" fill="#1a1a1a" class="s" textLength="31.9" lengthAdjust="spacingAndGlyphs">TCRBV07-08</text>
<text x="31.3" y="453.9" font-size="5.3" fill="#1a1a1a" class="s" textLength="31.7" lengthAdjust="spacingAndGlyphs">TCRBV07-07</text>
<text x="38.7" y="459.4" font-size="5.3" fill="#1a1a1a" class="s" textLength="31.7" lengthAdjust="spacingAndGlyphs">TCRBV07-06</text>
<text x="67.4" y="468.8" font-size="5.3" fill="#1a1a1a" class="s" textLength="31.5" lengthAdjust="spacingAndGlyphs">TCRBV07-04</text>
<text x="109.8" y="343.9" font-size="5.3" fill="#1a1a1a" class="s" textLength="32.8" lengthAdjust="spacingAndGlyphs">TCRBV01-01</text>
<text x="134.4" y="349.9" font-size="5.3" fill="#1a1a1a" class="s" textLength="31.7" lengthAdjust="spacingAndGlyphs">TCRBV02-01</text>
<text x="144" y="355.4" font-size="5.3" fill="#1a1a1a" class="s" textLength="31.5" lengthAdjust="spacingAndGlyphs">TCRBV04-01</text>
<text x="150.7" y="361.4" font-size="5.3" fill="#1a1a1a" class="s" textLength="32.0" lengthAdjust="spacingAndGlyphs">TCRBV04-02</text>
<text x="155.6" y="367.5" font-size="5.3" fill="#1a1a1a" class="s" textLength="31.7" lengthAdjust="spacingAndGlyphs">TCRBV04-03</text>
<text x="159.6" y="373.0" font-size="5.3" fill="#1a1a1a" class="s" textLength="31.8" lengthAdjust="spacingAndGlyphs">TCRBV05-01</text>
<text x="162.8" y="378.7" font-size="5.3" fill="#1a1a1a" class="s" textLength="31.8" lengthAdjust="spacingAndGlyphs">TCRBV05-03</text>
<text x="165.5" y="384.5" font-size="5.3" fill="#1a1a1a" class="s" textLength="32.3" lengthAdjust="spacingAndGlyphs">TCRBV05-04</text>
<text x="166.8" y="390.3" font-size="5.3" fill="#1a1a1a" class="s" textLength="31.9" lengthAdjust="spacingAndGlyphs">TCRBV05-05</text>
<text x="168.2" y="395.8" font-size="5.3" fill="#1a1a1a" class="s" textLength="31.9" lengthAdjust="spacingAndGlyphs">TCRBV05-06</text>
<text x="168.8" y="401.8" font-size="5.3" fill="#1a1a1a" class="s" textLength="32.1" lengthAdjust="spacingAndGlyphs">TCRBV05-07</text>
<text x="169.5" y="407.2" font-size="5.3" fill="#1a1a1a" class="s" textLength="31.9" lengthAdjust="spacingAndGlyphs">TCRBV05-08</text>
<text x="168.8" y="413.5" font-size="5.3" fill="#1a1a1a" class="s" textLength="32.1" lengthAdjust="spacingAndGlyphs">TCRBV06-01</text>
<text x="168.2" y="418.9" font-size="5.3" fill="#1a1a1a" class="s" textLength="31.9" lengthAdjust="spacingAndGlyphs">TCRBV06-04</text>
<text x="166.2" y="424.7" font-size="5.3" fill="#1a1a1a" class="s" textLength="32.0" lengthAdjust="spacingAndGlyphs">TCRBV06-05</text>
<text x="164.8" y="430.4" font-size="5.3" fill="#1a1a1a" class="s" textLength="32.0" lengthAdjust="spacingAndGlyphs">TCRBV06-06</text>
<text x="162.4" y="436.4" font-size="5.3" fill="#1a1a1a" class="s" textLength="31.3" lengthAdjust="spacingAndGlyphs">TCRBV06-07</text>
<text x="158.3" y="442.0" font-size="5.3" fill="#1a1a1a" class="s" textLength="31.9" lengthAdjust="spacingAndGlyphs">TCRBV06-08</text>
<text x="153.7" y="447.7" font-size="5.3" fill="#1a1a1a" class="s" textLength="31.9" lengthAdjust="spacingAndGlyphs">TCRBV06-09</text>
<text x="148.8" y="453.7" font-size="5.3" fill="#1a1a1a" class="s" textLength="31.7" lengthAdjust="spacingAndGlyphs">TCRBV07-01</text>
<text x="140.5" y="459.8" font-size="5.3" fill="#1a1a1a" class="s" textLength="31.9" lengthAdjust="spacingAndGlyphs">TCRBV07-02</text>
<text x="110.5" y="468.8" font-size="5.3" fill="#1a1a1a" class="s" textLength="31.5" lengthAdjust="spacingAndGlyphs">TCRBV07-03</text>
<polyline points="109.0,505.1 107.0,505.1 114.3,515.1" fill="none" stroke="#c6c8cc" stroke-width="0.5"/>
<polyline points="133.0,511.1 131.0,511.1 128.0,520.3" fill="none" stroke="#c6c8cc" stroke-width="0.5"/>
<polyline points="142.3,516.6 140.3,516.6 128.0,520.3" fill="none" stroke="#c6c8cc" stroke-width="0.5"/>
<polyline points="149.2,522.8 147.2,522.8 133.4,523.7" fill="none" stroke="#c6c8cc" stroke-width="0.5"/>
<polyline points="154.6,528.5 152.6,528.5 146.4,537.1" fill="none" stroke="#c6c8cc" stroke-width="0.5"/>
<polyline points="159.2,534.6 157.2,534.6 146.4,537.1" fill="none" stroke="#c6c8cc" stroke-width="0.5"/>
<polyline points="162.3,540.3 160.3,540.3 154.6,556.5" fill="none" stroke="#c6c8cc" stroke-width="0.5"/>
<polyline points="164.6,546.2 162.6,546.2 155.6,563.5" fill="none" stroke="#c6c8cc" stroke-width="0.5"/>
<polyline points="166.1,552.0 164.1,552.0 155.6,563.5" fill="none" stroke="#c6c8cc" stroke-width="0.5"/>
<polyline points="167.4,558.2 165.4,558.2 155.8,568.8" fill="none" stroke="#c6c8cc" stroke-width="0.5"/>
<polyline points="168.1,564.0 166.1,564.0 155.4,574.2" fill="none" stroke="#c6c8cc" stroke-width="0.5"/>
<polyline points="168.5,570.1 166.5,570.1 155.4,574.2" fill="none" stroke="#c6c8cc" stroke-width="0.5"/>
<polyline points="168.5,575.5 166.5,575.5 153.6,583.6" fill="none" stroke="#c6c8cc" stroke-width="0.5"/>
<polyline points="167.5,581.5 165.5,581.5 145.7,599.8" fill="none" stroke="#c6c8cc" stroke-width="0.5"/>
<polyline points="166.1,587.6 164.1,587.6 145.7,599.8" fill="none" stroke="#c6c8cc" stroke-width="0.5"/>
<polyline points="163.4,593.0 161.4,593.0 137.7,608.8" fill="none" stroke="#c6c8cc" stroke-width="0.5"/>
<polyline points="161.0,599.0 159.0,599.0 128.4,615.5" fill="none" stroke="#c6c8cc" stroke-width="0.5"/>
<polyline points="157.4,604.4 155.4,604.4 128.4,615.5" fill="none" stroke="#c6c8cc" stroke-width="0.5"/>
<polyline points="152.7,610.9 150.7,610.9 118.2,619.9" fill="none" stroke="#c6c8cc" stroke-width="0.5"/>
<polyline points="147.3,616.8 145.3,616.8 112.7,621.3" fill="none" stroke="#c6c8cc" stroke-width="0.5"/>
<polyline points="139.2,622.6 137.2,622.6 112.7,621.3" fill="none" stroke="#c6c8cc" stroke-width="0.5"/>
<polyline points="107.3,631.9 105.3,631.9 103.4,622.2" fill="none" stroke="#c6c8cc" stroke-width="0.5"/>
<polyline points="88.3,631.9 90.3,631.9 93.6,621.4" fill="none" stroke="#c6c8cc" stroke-width="0.5"/>
<polyline points="68.1,622.6 70.1,622.6 87.1,619.7" fill="none" stroke="#c6c8cc" stroke-width="0.5"/>
<polyline points="60.7,616.8 62.7,616.8 82.4,618.0" fill="none" stroke="#c6c8cc" stroke-width="0.5"/>
<polyline points="54.9,610.9 56.9,610.9 75.7,614.6" fill="none" stroke="#c6c8cc" stroke-width="0.5"/>
<polyline points="50.6,604.4 52.6,604.4 75.7,614.6" fill="none" stroke="#c6c8cc" stroke-width="0.5"/>
<polyline points="46.8,599.0 48.8,599.0 66.4,607.3" fill="none" stroke="#c6c8cc" stroke-width="0.5"/>
<polyline points="43.9,593.0 45.9,593.0 61.9,602.4" fill="none" stroke="#c6c8cc" stroke-width="0.5"/>
<polyline points="42.3,587.6 44.3,587.6 59.8,599.6" fill="none" stroke="#c6c8cc" stroke-width="0.5"/>
<polyline points="40.9,581.5 42.9,581.5 57.9,596.7" fill="none" stroke="#c6c8cc" stroke-width="0.5"/>
<polyline points="39.8,575.9 41.8,575.9 55.5,592.3" fill="none" stroke="#c6c8cc" stroke-width="0.5"/>
<polyline points="39.2,570.1 41.2,570.1 51.2,580.1" fill="none" stroke="#c6c8cc" stroke-width="0.5"/>
<polyline points="39.2,564.0 41.2,564.0 51.2,580.1" fill="none" stroke="#c6c8cc" stroke-width="0.5"/>
<polyline points="40.5,557.6 42.5,557.6 50.9,557.7" fill="none" stroke="#c6c8cc" stroke-width="0.5"/>
<polyline points="41.8,551.8 43.8,551.8 55.8,543.2" fill="none" stroke="#c6c8cc" stroke-width="0.5"/>
<polyline points="43.2,546.0 45.2,546.0 57.1,540.7" fill="none" stroke="#c6c8cc" stroke-width="0.5"/>
<polyline points="45.5,540.1 47.5,540.1 58.3,538.8" fill="none" stroke="#c6c8cc" stroke-width="0.5"/>
<polyline points="49.0,534.3 51.0,534.3 59.4,537.0" fill="none" stroke="#c6c8cc" stroke-width="0.5"/>
<polyline points="53.0,528.5 55.0,528.5 62.8,532.6" fill="none" stroke="#c6c8cc" stroke-width="0.5"/>
<polyline points="58.0,522.6 60.0,522.6 62.8,532.6" fill="none" stroke="#c6c8cc" stroke-width="0.5"/>
<polyline points="64.7,516.8 66.7,516.8 72.7,523.4" fill="none" stroke="#c6c8cc" stroke-width="0.5"/>
<polyline points="75.7,510.8 77.7,510.8 85.4,516.8" fill="none" stroke="#c6c8cc" stroke-width="0.5"/>
<polyline points="93.3,505.1 95.3,505.1 96.3,514.2" fill="none" stroke="#c6c8cc" stroke-width="0.5"/>
<text x="61.2" y="507.0" font-size="5.3" fill="#1a1a1a" class="s" textLength="31.3" lengthAdjust="spacingAndGlyphs">TCRBV30-01</text>
<text x="43.2" y="512.7" font-size="5.3" fill="#1a1a1a" class="s" textLength="31.7" lengthAdjust="spacingAndGlyphs">TCRBV29-01</text>
<text x="32.3" y="518.7" font-size="5.3" fill="#1a1a1a" class="s" textLength="31.6" lengthAdjust="spacingAndGlyphs">TCRBV28-01</text>
<text x="25.3" y="524.5" font-size="5.3" fill="#1a1a1a" class="s" textLength="31.9" lengthAdjust="spacingAndGlyphs">TCRBV27-01</text>
<text x="20.2" y="530.4" font-size="5.3" fill="#1a1a1a" class="s" textLength="32.0" lengthAdjust="spacingAndGlyphs">TCRBV25-01</text>
<text x="16.2" y="536.2" font-size="5.3" fill="#1a1a1a" class="s" textLength="32.0" lengthAdjust="spacingAndGlyphs">TCRBV23-01</text>
<text x="12.8" y="542.0" font-size="5.3" fill="#1a1a1a" class="s" textLength="31.9" lengthAdjust="spacingAndGlyphs">TCRBV21-01</text>
<text x="10.5" y="547.9" font-size="5.3" fill="#1a1a1a" class="s" textLength="31.9" lengthAdjust="spacingAndGlyphs">TCRBV20-01</text>
<text x="9.2" y="553.7" font-size="5.3" fill="#1a1a1a" class="s" textLength="31.8" lengthAdjust="spacingAndGlyphs">TCRBV19-01</text>
<text x="8.3" y="559.5" font-size="5.3" fill="#1a1a1a" class="s" textLength="31.4" lengthAdjust="spacingAndGlyphs">TCRBV18-01</text>
<text x="7" y="565.9" font-size="5.3" fill="#1a1a1a" class="s" textLength="31.4" lengthAdjust="spacingAndGlyphs">TCRBV15-01</text>
<text x="7" y="572.0" font-size="5.3" fill="#1a1a1a" class="s" textLength="31.4" lengthAdjust="spacingAndGlyphs">TCRBV14-01</text>
<text x="7.4" y="577.8" font-size="5.3" fill="#1a1a1a" class="s" textLength="31.6" lengthAdjust="spacingAndGlyphs">TCRBV13-01</text>
<text x="8.3" y="583.4" font-size="5.3" fill="#1a1a1a" class="s" textLength="31.8" lengthAdjust="spacingAndGlyphs">TCRBV12-05</text>
<text x="9.7" y="589.5" font-size="5.3" fill="#1a1a1a" class="s" textLength="31.8" lengthAdjust="spacingAndGlyphs">TCRBV12-02</text>
<text x="11.4" y="594.9" font-size="5.3" fill="#1a1a1a" class="s" textLength="31.7" lengthAdjust="spacingAndGlyphs">TCRBV11-03</text>
<text x="14.1" y="600.9" font-size="5.3" fill="#1a1a1a" class="s" textLength="31.9" lengthAdjust="spacingAndGlyphs">TCRBV11-02</text>
<text x="18.2" y="606.3" font-size="5.3" fill="#1a1a1a" class="s" textLength="31.6" lengthAdjust="spacingAndGlyphs">TCRBV11-01</text>
<text x="22.2" y="612.8" font-size="5.3" fill="#1a1a1a" class="s" textLength="31.9" lengthAdjust="spacingAndGlyphs">TCRBV10-03</text>
<text x="28.3" y="618.7" font-size="5.3" fill="#1a1a1a" class="s" textLength="31.6" lengthAdjust="spacingAndGlyphs">TCRBV10-02</text>
<text x="36.3" y="624.5" font-size="5.3" fill="#1a1a1a" class="s" textLength="31.0" lengthAdjust="spacingAndGlyphs">TCRBV10-01</text>
<text x="56.2" y="633.8" font-size="5.3" fill="#1a1a1a" class="s" textLength="31.3" lengthAdjust="spacingAndGlyphs">TCRBV09-01</text>
<text x="109.8" y="507.0" font-size="5.3" fill="#1a1a1a" class="s" textLength="31.3" lengthAdjust="spacingAndGlyphs">TCRBV01-01</text>
<text x="133.8" y="513.0" font-size="5.3" fill="#1a1a1a" class="s" textLength="31.6" lengthAdjust="spacingAndGlyphs">TCRBV02-01</text>
<text x="143.1" y="518.5" font-size="5.3" fill="#1a1a1a" class="s" textLength="31.8" lengthAdjust="spacingAndGlyphs">TCRBV04-01</text>
<text x="150" y="524.7" font-size="5.3" fill="#1a1a1a" class="s" textLength="32.3" lengthAdjust="spacingAndGlyphs">TCRBV04-02</text>
<text x="155.4" y="530.4" font-size="5.3" fill="#1a1a1a" class="s" textLength="31.8" lengthAdjust="spacingAndGlyphs">TCRBV05-01</text>
<text x="160" y="536.5" font-size="5.3" fill="#1a1a1a" class="s" textLength="32.3" lengthAdjust="spacingAndGlyphs">TCRBV05-03</text>
<text x="163.1" y="542.2" font-size="5.3" fill="#1a1a1a" class="s" textLength="32.3" lengthAdjust="spacingAndGlyphs">TCRBV05-04</text>
<text x="165.4" y="548.1" font-size="5.3" fill="#1a1a1a" class="s" textLength="32.0" lengthAdjust="spacingAndGlyphs">TCRBV05-05</text>
<text x="166.9" y="553.9" font-size="5.3" fill="#1a1a1a" class="s" textLength="32.0" lengthAdjust="spacingAndGlyphs">TCRBV05-06</text>
<text x="168.2" y="560.1" font-size="5.3" fill="#1a1a1a" class="s" textLength="31.8" lengthAdjust="spacingAndGlyphs">TCRBV05-07</text>
<text x="168.9" y="565.9" font-size="5.3" fill="#1a1a1a" class="s" textLength="31.9" lengthAdjust="spacingAndGlyphs">TCRBV05-08</text>
<text x="169.3" y="572.0" font-size="5.3" fill="#1a1a1a" class="s" textLength="31.9" lengthAdjust="spacingAndGlyphs">TCRBV06-01</text>
<text x="169.3" y="577.4" font-size="5.3" fill="#1a1a1a" class="s" textLength="31.9" lengthAdjust="spacingAndGlyphs">TCRBV06-04</text>
<text x="168.3" y="583.4" font-size="5.3" fill="#1a1a1a" class="s" textLength="31.6" lengthAdjust="spacingAndGlyphs">TCRBV06-05</text>
<text x="166.9" y="589.5" font-size="5.3" fill="#1a1a1a" class="s" textLength="32.0" lengthAdjust="spacingAndGlyphs">TCRBV06-06</text>
<text x="164.2" y="594.9" font-size="5.3" fill="#1a1a1a" class="s" textLength="32.1" lengthAdjust="spacingAndGlyphs">TCRBV06-07</text>
<text x="161.8" y="600.9" font-size="5.3" fill="#1a1a1a" class="s" textLength="32.0" lengthAdjust="spacingAndGlyphs">TCRBV07-02</text>
<text x="158.2" y="606.3" font-size="5.3" fill="#1a1a1a" class="s" textLength="31.9" lengthAdjust="spacingAndGlyphs">TCRBV07-03</text>
<text x="153.5" y="612.8" font-size="5.3" fill="#1a1a1a" class="s" textLength="32.0" lengthAdjust="spacingAndGlyphs">TCRBV07-06</text>
<text x="148.1" y="618.7" font-size="5.3" fill="#1a1a1a" class="s" textLength="32.0" lengthAdjust="spacingAndGlyphs">TCRBV07-07</text>
<text x="140" y="624.5" font-size="5.3" fill="#1a1a1a" class="s" textLength="32.0" lengthAdjust="spacingAndGlyphs">TCRBV07-08</text>
<text x="108.1" y="633.8" font-size="5.3" fill="#1a1a1a" class="s" textLength="32.3" lengthAdjust="spacingAndGlyphs">TCRBV07-09</text>
<text x="215.4" y="341.2" font-size="11.6" font-weight="bold" fill="#111">C</text>
<line x1="239.7" y1="330.4" x2="239.7" y2="640.2" stroke="#222" stroke-width="1.2"/>
<line x1="239.1" y1="639.7" x2="460.7" y2="639.7" stroke="#222" stroke-width="1.2"/>
<line x1="252.04" y1="639.7" x2="252.04" y2="643.3" stroke="#222" stroke-width="1"/>
<text x="252.04" y="653.8" font-size="7.4" fill="#222" text-anchor="middle">−20</text>
<line x1="307.97" y1="639.7" x2="307.97" y2="643.3" stroke="#222" stroke-width="1"/>
<text x="307.97" y="653.8" font-size="7.4" fill="#222" text-anchor="middle">−10</text>
<line x1="363.90" y1="639.7" x2="363.90" y2="643.3" stroke="#222" stroke-width="1"/>
<text x="363.90" y="653.8" font-size="7.4" fill="#222" text-anchor="middle">0</text>
<line x1="419.83" y1="639.7" x2="419.83" y2="643.3" stroke="#222" stroke-width="1"/>
<text x="419.83" y="653.8" font-size="7.4" fill="#222" text-anchor="middle">10</text>
<line x1="236.6" y1="374.00" x2="239.7" y2="374.00" stroke="#222" stroke-width="1"/>
<text x="234" y="376.60" font-size="7.4" fill="#222" text-anchor="end">10</text>
<line x1="236.6" y1="461.90" x2="239.7" y2="461.90" stroke="#222" stroke-width="1"/>
<text x="234" y="464.50" font-size="7.4" fill="#222" text-anchor="end">0</text>
<line x1="236.6" y1="549.80" x2="239.7" y2="549.80" stroke="#222" stroke-width="1"/>
<text x="234" y="552.40" font-size="7.4" fill="#222" text-anchor="end">−10</text>
<line x1="236.6" y1="637.70" x2="239.7" y2="637.70" stroke="#222" stroke-width="1"/>
<text x="234" y="640.30" font-size="7.4" fill="#222" text-anchor="end">−20</text>
<text x="0" y="0" font-size="9.2" fill="#222" text-anchor="middle" transform="translate(350,667) scale(0.87,1)">tSNE1</text>
<text x="0" y="0" font-size="9.2" fill="#222" text-anchor="middle" transform="translate(224.2,485.4) rotate(-90) scale(0.87,1)">tSNE2</text>
<circle cx="386.5" cy="345.4" r="2.1" fill="#78aae2" fill-opacity="0.85" stroke="#5c8cc6" stroke-width="0.5"/>
<circle cx="392.9" cy="345.6" r="2.1" fill="#78aae2" fill-opacity="0.85" stroke="#5c8cc6" stroke-width="0.5"/>
<circle cx="394.6" cy="347.1" r="2.1" fill="#78aae2" fill-opacity="0.85" stroke="#5c8cc6" stroke-width="0.5"/>
<circle cx="401" cy="349.4" r="2.1" fill="#78aae2" fill-opacity="0.85" stroke="#5c8cc6" stroke-width="0.5"/>
<circle cx="376.7" cy="354.4" r="2.1" fill="#78aae2" fill-opacity="0.85" stroke="#5c8cc6" stroke-width="0.5"/>
<circle cx="393.5" cy="354.6" r="2.1" fill="#78aae2" fill-opacity="0.85" stroke="#5c8cc6" stroke-width="0.5"/>
<circle cx="395.8" cy="355.8" r="2.1" fill="#78aae2" fill-opacity="0.85" stroke="#5c8cc6" stroke-width="0.5"/>
<circle cx="390" cy="356.9" r="2.1" fill="#78aae2" fill-opacity="0.85" stroke="#5c8cc6" stroke-width="0.5"/>
<circle cx="388.8" cy="359.2" r="2.1" fill="#78aae2" fill-opacity="0.85" stroke="#5c8cc6" stroke-width="0.5"/>
<circle cx="392.9" cy="359.2" r="2.1" fill="#78aae2" fill-opacity="0.85" stroke="#5c8cc6" stroke-width="0.5"/>
<circle cx="384.2" cy="361.5" r="2.1" fill="#78aae2" fill-opacity="0.85" stroke="#5c8cc6" stroke-width="0.5"/>
<circle cx="378.5" cy="363.3" r="2.1" fill="#78aae2" fill-opacity="0.85" stroke="#5c8cc6" stroke-width="0.5"/>
<circle cx="388.3" cy="362.1" r="2.1" fill="#78aae2" fill-opacity="0.85" stroke="#5c8cc6" stroke-width="0.5"/>
<circle cx="395.8" cy="361.5" r="2.1" fill="#78aae2" fill-opacity="0.85" stroke="#5c8cc6" stroke-width="0.5"/>
<circle cx="383.7" cy="364.4" r="2.1" fill="#78aae2" fill-opacity="0.85" stroke="#5c8cc6" stroke-width="0.5"/>
<circle cx="390.6" cy="365.6" r="2.1" fill="#78aae2" fill-opacity="0.85" stroke="#5c8cc6" stroke-width="0.5"/>
<circle cx="390.6" cy="368.5" r="2.1" fill="#78aae2" fill-opacity="0.85" stroke="#5c8cc6" stroke-width="0.5"/>
<circle cx="402.7" cy="367.5" r="2.1" fill="#78aae2" fill-opacity="0.85" stroke="#5c8cc6" stroke-width="0.5"/>
<circle cx="396.9" cy="371.3" r="2.1" fill="#78aae2" fill-opacity="0.85" stroke="#5c8cc6" stroke-width="0.5"/>
<circle cx="402.7" cy="375.4" r="2.1" fill="#78aae2" fill-opacity="0.85" stroke="#5c8cc6" stroke-width="0.5"/>
<circle cx="405" cy="378.3" r="2.1" fill="#78aae2" fill-opacity="0.85" stroke="#5c8cc6" stroke-width="0.5"/>
<circle cx="391.7" cy="361" r="2.1" fill="#78aae2" fill-opacity="0.85" stroke="#5c8cc6" stroke-width="0.5"/>
<circle cx="413.5" cy="394.4" r="2.1" fill="#cc3c90" fill-opacity="0.8" stroke="#b02c7c" stroke-width="0.6"/>
<circle cx="416.8" cy="401.6" r="2.1" fill="#cc3c90" fill-opacity="0.8" stroke="#b02c7c" stroke-width="0.6"/>
<circle cx="418.1" cy="404.2" r="2.1" fill="#cc3c90" fill-opacity="0.8" stroke="#b02c7c" stroke-width="0.6"/>
<circle cx="421.8" cy="413.1" r="2.1" fill="#cc3c90" fill-opacity="0.8" stroke="#b02c7c" stroke-width="0.6"/>
<circle cx="426.7" cy="412.2" r="2.1" fill="#cc3c90" fill-opacity="0.8" stroke="#b02c7c" stroke-width="0.6"/>
<circle cx="424.6" cy="418.3" r="2.1" fill="#cc3c90" fill-opacity="0.8" stroke="#b02c7c" stroke-width="0.6"/>
<circle cx="420.8" cy="420.3" r="2.1" fill="#cc3c90" fill-opacity="0.8" stroke="#b02c7c" stroke-width="0.6"/>
<circle cx="432.6" cy="416.7" r="2.1" fill="#cc3c90" fill-opacity="0.8" stroke="#b02c7c" stroke-width="0.6"/>
<circle cx="411.6" cy="425.3" r="2.1" fill="#cc3c90" fill-opacity="0.8" stroke="#b02c7c" stroke-width="0.6"/>
<circle cx="415.3" cy="425.3" r="2.1" fill="#cc3c90" fill-opacity="0.8" stroke="#b02c7c" stroke-width="0.6"/>
<circle cx="420.5" cy="427.1" r="2.1" fill="#cc3c90" fill-opacity="0.8" stroke="#b02c7c" stroke-width="0.6"/>
<circle cx="424.1" cy="427.8" r="2.1" fill="#cc3c90" fill-opacity="0.8" stroke="#b02c7c" stroke-width="0.6"/>
<circle cx="429.3" cy="424.5" r="2.1" fill="#cc3c90" fill-opacity="0.8" stroke="#b02c7c" stroke-width="0.6"/>
<circle cx="428.5" cy="430.2" r="2.1" fill="#cc3c90" fill-opacity="0.8" stroke="#b02c7c" stroke-width="0.6"/>
<circle cx="432.2" cy="431.3" r="2.1" fill="#cc3c90" fill-opacity="0.8" stroke="#b02c7c" stroke-width="0.6"/>
<circle cx="424.6" cy="434.4" r="2.1" fill="#cc3c90" fill-opacity="0.8" stroke="#b02c7c" stroke-width="0.6"/>
<circle cx="428.8" cy="435.4" r="2.1" fill="#cc3c90" fill-opacity="0.8" stroke="#b02c7c" stroke-width="0.6"/>
<circle cx="431.6" cy="449.4" r="2.1" fill="#cc3c90" fill-opacity="0.8" stroke="#b02c7c" stroke-width="0.6"/>
<circle cx="430.3" cy="426.6" r="2.1" fill="#cc3c90" fill-opacity="0.8" stroke="#b02c7c" stroke-width="0.6"/>
<circle cx="422.3" cy="426.2" r="2.1" fill="#cc3c90" fill-opacity="0.8" stroke="#b02c7c" stroke-width="0.6"/>
<circle cx="257.9" cy="584.8" r="2.1" fill="#d27896" fill-opacity="0.85" stroke="#b44a6a" stroke-width="0.7"/>
<circle cx="260.9" cy="583.5" r="2.1" fill="#d27896" fill-opacity="0.85" stroke="#b44a6a" stroke-width="0.7"/>
<circle cx="257" cy="590.3" r="2.1" fill="#d27896" fill-opacity="0.85" stroke="#b44a6a" stroke-width="0.7"/>
<circle cx="263.7" cy="588.4" r="2.1" fill="#d27896" fill-opacity="0.85" stroke="#b44a6a" stroke-width="0.7"/>
<circle cx="260.6" cy="594.4" r="2.1" fill="#d27896" fill-opacity="0.85" stroke="#b44a6a" stroke-width="0.7"/>
<circle cx="269.2" cy="595.7" r="2.1" fill="#d27896" fill-opacity="0.85" stroke="#b44a6a" stroke-width="0.7"/>
<circle cx="261" cy="599.1" r="2.1" fill="#d27896" fill-opacity="0.85" stroke="#b44a6a" stroke-width="0.7"/>
<circle cx="263.7" cy="598.9" r="2.1" fill="#d27896" fill-opacity="0.85" stroke="#b44a6a" stroke-width="0.7"/>
<circle cx="267.7" cy="601.6" r="2.1" fill="#d27896" fill-opacity="0.85" stroke="#b44a6a" stroke-width="0.7"/>
<circle cx="257.5" cy="602.5" r="2.1" fill="#d27896" fill-opacity="0.85" stroke="#b44a6a" stroke-width="0.7"/>
<circle cx="260.9" cy="604" r="2.1" fill="#d27896" fill-opacity="0.85" stroke="#b44a6a" stroke-width="0.7"/>
<circle cx="249.5" cy="605.1" r="2.1" fill="#d27896" fill-opacity="0.85" stroke="#b44a6a" stroke-width="0.7"/>
<circle cx="253.9" cy="606.4" r="2.1" fill="#d27896" fill-opacity="0.85" stroke="#b44a6a" stroke-width="0.7"/>
<circle cx="259.7" cy="609.3" r="2.1" fill="#d27896" fill-opacity="0.85" stroke="#b44a6a" stroke-width="0.7"/>
<circle cx="269.5" cy="611.4" r="2.1" fill="#d27896" fill-opacity="0.85" stroke="#b44a6a" stroke-width="0.7"/>
<circle cx="255.2" cy="613.3" r="2.1" fill="#d27896" fill-opacity="0.85" stroke="#b44a6a" stroke-width="0.7"/>
<circle cx="262.4" cy="614.9" r="2.1" fill="#d27896" fill-opacity="0.85" stroke="#b44a6a" stroke-width="0.7"/>
<circle cx="266.4" cy="616.4" r="2.1" fill="#d27896" fill-opacity="0.85" stroke="#b44a6a" stroke-width="0.7"/>
<circle cx="257.9" cy="619.1" r="2.1" fill="#d27896" fill-opacity="0.85" stroke="#b44a6a" stroke-width="0.7"/>
<circle cx="263.3" cy="621.8" r="2.1" fill="#d27896" fill-opacity="0.85" stroke="#b44a6a" stroke-width="0.7"/>
<circle cx="266.8" cy="626.5" r="2.1" fill="#d27896" fill-opacity="0.85" stroke="#b44a6a" stroke-width="0.7"/>
<circle cx="258.4" cy="620.5" r="2.1" fill="#d27896" fill-opacity="0.85" stroke="#b44a6a" stroke-width="0.7"/>
<ellipse cx="450" cy="445.8" rx="2.2" ry="2.6" fill="#5a9a3a"/>
<line x1="439.2" y1="337.4" x2="417.09" y2="346.54" stroke="#24385e" stroke-width="1.5"/>
<path d="M412.10,348.60 L416.72,343.01 L416.91,346.61 L419.31,349.30 Z" fill="#24385e"/>
<line x1="459.7" y1="374.8" x2="438.76" y2="396.33" stroke="#24385e" stroke-width="1.5"/>
<path d="M435.00,400.20 L437.02,393.24 L438.63,396.47 L441.90,397.98 Z" fill="#24385e"/>
<line x1="480" y1="410.8" x2="459.98" y2="431.24" stroke="#24385e" stroke-width="1.5"/>
<path d="M456.20,435.10 L458.25,428.15 L459.84,431.39 L463.11,432.91 Z" fill="#24385e"/>
<line x1="308.5" y1="566" x2="287.01" y2="587.57" stroke="#24385e" stroke-width="1.5"/>
<path d="M283.20,591.40 L285.31,584.47 L286.87,587.72 L290.13,589.27 Z" fill="#24385e"/>
<text x="442.8" y="338" font-size="8.6" fill="#1a1a1a" class="s" textLength="26" lengthAdjust="spacingAndGlyphs">Tregs A</text>
<text x="450.2" y="371.9" font-size="8.6" fill="#1a1a1a" class="s" textLength="25.8" lengthAdjust="spacingAndGlyphs">Tregs B</text>
<text x="457.6" y="406.2" font-size="8.6" fill="#1a1a1a" class="s" textLength="55.4" lengthAdjust="spacingAndGlyphs">Expanded Tregs</text>
<text x="297" y="561.1" font-size="8.6" fill="#1a1a1a" class="s" textLength="22.2" lengthAdjust="spacingAndGlyphs">B cells</text></svg>
</body></html>
